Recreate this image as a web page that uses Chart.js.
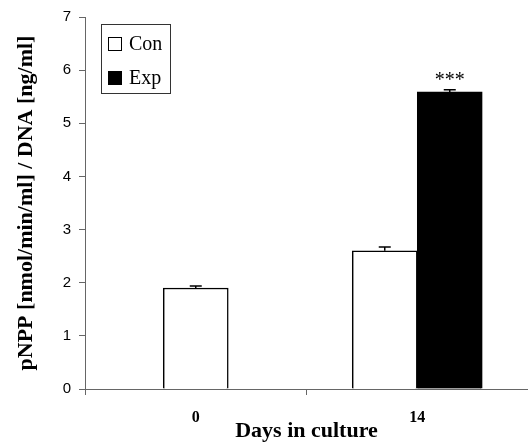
<!DOCTYPE html>
<html>
<head>
<meta charset="utf-8">
<script src="https://cdn.jsdelivr.net/npm/chart.js@4/dist/chart.umd.min.js"></script>
<style>
  html, body { margin: 0; padding: 0; background: #fff; }
  #wrap { width: 528px; height: 442px; position: relative; }
</style>
</head>
<body>
<div id="wrap"><canvas id="chart"></canvas></div>
<script>
/* ── Data ── */
const categories = ['0', '14'];
const conValues  = [1.9, 2.6];
const expValues  = [null, 5.59];
const conErrors  = [0.04, 0.07];
const expErrors  = [null, 0.04];
const expMarks   = ['', '***'];
const yTickMin   = 0;
const yTickMax   = 7;
const yTickStep  = 1;

const serif = '"Liberation Serif", "Times New Roman", serif';
const sans  = '"Liberation Sans", Arial, sans-serif';

/* ── Upward error bars + significance stars ── */
const errorBars = {
  id: 'errorBars',
  afterDatasetsDraw(chart) {
    const ctx = chart.ctx;
    const y = chart.scales.y;
    const errs = [conErrors, expErrors];
    ctx.save();
    ctx.strokeStyle = '#000';
    ctx.lineWidth = 1.5;
    chart.data.datasets.forEach((ds, di) => {
      const meta = chart.getDatasetMeta(di);
      meta.data.forEach((bar, i) => {
        const v = ds.data[i];
        const e = errs[di][i];
        if (v == null || e == null) return;
        const top = y.getPixelForValue(v + e);
        ctx.beginPath();
        ctx.moveTo(bar.x, bar.y);
        ctx.lineTo(bar.x, top);
        ctx.moveTo(bar.x - 6, top);
        ctx.lineTo(bar.x + 6, top);
        ctx.stroke();
        if (di === 1 && expMarks[i]) {
          ctx.fillStyle = '#000';
          ctx.font = '20px ' + serif;
          ctx.textAlign = 'center';
          ctx.textBaseline = 'middle';
          ctx.fillText(expMarks[i], bar.x, top - 9);
        }
      });
    });
    ctx.restore();
  }
};

/* ── Boxed legend inside the plot, top-left ── */
const boxLegend = {
  id: 'boxLegend',
  afterDraw(chart) {
    const ctx = chart.ctx;
    const area = chart.chartArea;
    const x0 = area.left + 16, y0 = area.top + 7;
    ctx.save();
    ctx.strokeStyle = '#333';
    ctx.lineWidth = 1;
    ctx.strokeRect(x0 + 0.5, y0 + 0.5, 69, 69);
    ctx.font = '20px ' + serif;
    ctx.textBaseline = 'middle';
    ctx.textAlign = 'left';
    chart.data.datasets.forEach((ds, i) => {
      const cy = y0 + 20 + i * 34;
      ctx.fillStyle = ds.backgroundColor;
      ctx.fillRect(x0 + 7, cy - 7, 14, 14);
      ctx.strokeStyle = '#000';
      ctx.strokeRect(x0 + 7.5, cy - 6.5, 13, 13);
      ctx.fillStyle = '#000';
      ctx.fillText(ds.label, x0 + 28, cy + 1);
    });
    ctx.restore();
  }
};

new Chart(document.getElementById('chart'), {
  type: 'bar',
  data: {
    labels: categories,
    datasets: [
      {
        label: 'Con',
        data: conValues,
        backgroundColor: '#ffffff',
        borderColor: '#000',
        borderWidth: 1.5,
        barThickness: 65,
      },
      {
        label: 'Exp',
        data: expValues,
        backgroundColor: '#000000',
        borderColor: '#000',
        borderWidth: 1.5,
        barThickness: 65,
      }
    ]
  },
  options: {
    responsive: true,
    maintainAspectRatio: false,
    animation: false,
    skipNull: true,
    layout: { padding: { top: 16, right: 0, left: 0, bottom: 0 } },
    plugins: {
      legend: { display: false },
      tooltip: { enabled: false }
    },
    scales: {
      x: {
        afterFit: s => { s.height = 53; },
        border: { color: '#666', width: 1 },
        grid: { offset: true, drawOnChartArea: false, tickLength: 6, color: '#666' },
        ticks: { color: '#000', padding: 13, font: { family: serif, size: 16, weight: 'bold' } },
        title: {
          display: true,
          text: 'Days in culture',
          color: '#000',
          padding: { top: 0, bottom: -3 },
          font: { family: serif, size: 22, weight: 'bold' }
        }
      },
      y: {
        min: yTickMin,
        max: yTickMax,
        afterFit: s => { s.width = 85; },
        border: { color: '#666', width: 1 },
        grid: { drawOnChartArea: false, tickLength: 6, color: '#666' },
        ticks: { stepSize: yTickStep, color: '#000', padding: 8, font: { family: sans, size: 15 } },
        title: {
          display: true,
          text: 'pNPP [nmol/min/ml] / DNA [ng/ml]',
          color: '#000',
          padding: { top: 13, bottom: 0 },
          font: { family: serif, size: 22, weight: 'bold' }
        }
      }
    }
  },
  plugins: [errorBars, boxLegend]
});
</script>
</body>
</html>
